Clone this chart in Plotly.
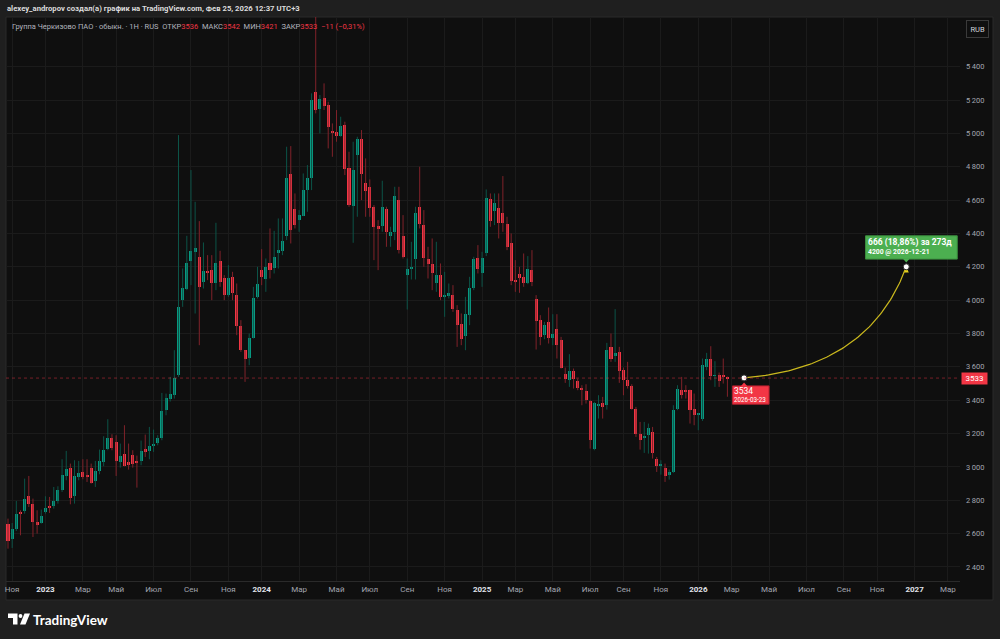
import pandas as pd
import numpy as np
import plotly.graph_objects as go

# ---------------- text ----------------
header_text = "alexey_andropov создал(а) график на TradingView.com, Фев 25, 2026 12:37 UTC+3"
symbol_text = "Группа Черкизово ПАО · обыкн. · 1Н · RUS"
currency = "RUB"

# ---------------- weekly OHLC (from 2022-10-31) ----------------
first_week = "2022-10-31"
opens = [2656,2568,2628,2730,2736,2828,2780,2668,2666,2728,
         2764,2764,2794,2864,2946,2996,2826,2938,2968,2948,
         2992,2916,2978,3030,3106,3176,3148,3030,3080,3028,
         3072,3030,3034,3110,3096,3126,3144,3174,3344,3406,
         3434,3550,4000,4066,4236,4286,4260,4106,4176,4180,
         4100,4232,4132,4030,4138,4030,3846,3700,3656,3774,
         4020,4180,4126,4224,4194,4284,4294,4384,4756,4544,
         4478,4506,4660,4730,5250,5144,5212,5170,5014,5006,
         4986,5050,4790,4564,4870,4966,4700,4676,4556,4444,
         4446,4544,4384,4410,4600,4384,4150,4184,4246,4560,
         4450,4246,4214,4104,4150,4020,4026,4030,3940,3860,
         3784,3910,4074,4250,4164,4280,4604,4536,4550,4520,
         4456,4340,4120,4154,4140,4104,4180,4006,3880,3790,
         3870,3776,3830,3760,3560,3520,3574,3514,3468,3456,
         3394,3108,3368,3386,3370,3720,3666,3690,3580,3520,
         3484,3350,3200,3176,3194,3208,3046,3006,2996,2950,
         2970,3350,3460,3456,3460,3346,3316,3286,3600,3646,
         3546,3554,3550,3536]
highs = [2690,2664,2796,2740,2930,2946,2810,2740,2744,2824,
         2820,2880,2884,3046,3096,3020,3040,3036,3046,3046,
         3020,3036,3104,3184,3286,3196,3190,3140,3250,3140,
         3100,3068,3158,3194,3240,3224,3190,3444,3440,3540,
         3700,4990,4190,4386,4780,4590,4474,4346,4270,4270,
         4464,4296,4150,4210,4170,4100,3880,3700,3800,4080,
         4200,4306,4250,4430,4416,4490,4490,4920,4924,4640,
         4540,4760,4810,5240,5760,5230,5300,5190,5060,5140,
         5100,5070,4890,4950,4980,5020,4850,4724,4570,4480,
         4716,4560,4440,4680,4680,4510,4250,4350,4560,4800,
         4540,4320,4370,4350,4220,4170,4100,4090,3970,3920,
         4020,4140,4260,4330,4290,4664,4640,4640,4640,4744,
         4500,4400,4240,4200,4280,4264,4300,4030,3910,3870,
         3956,3916,3916,3780,3596,3676,3590,3530,3490,3496,
         3400,3390,3430,3420,3744,3800,3946,3720,3596,3630,
         3496,3360,3270,3270,3260,3240,3060,3040,3020,2984,
         3370,3490,3540,3490,3464,3440,3324,3650,3684,3724,
         3634,3566,3650,3542]
lows = [2510,2514,2616,2590,2720,2760,2580,2600,2660,2720,
        2724,2750,2780,2850,2920,2776,2780,2920,2926,2910,
        2900,2880,2956,3004,3100,3100,2946,2996,3004,2984,
        2996,2876,3010,3060,3046,3090,3130,3160,3310,3392,
        3410,3540,3960,4060,4090,3920,3730,4070,4120,4000,
        4060,4080,4000,4020,4000,3790,3690,3510,3610,3770,
        4010,4090,4050,4130,4160,4190,4270,4360,4340,4430,
        4410,4504,4530,4660,5120,5000,5140,4910,4860,4950,
        4980,4750,4560,4344,4500,4600,4500,4500,4240,4180,
        4410,4320,4320,4360,4280,4250,3944,4124,4124,4430,
        4200,4130,4060,4050,4000,3900,4010,3930,3720,3730,
        3700,3850,4060,4160,4080,4264,4440,4450,4370,4410,
        4300,4090,4050,4044,4080,4096,4084,3704,3730,3766,
        3740,3730,3650,3590,3504,3480,3470,3460,3370,3380,
        3110,3100,3290,3290,3344,3630,3630,3504,3430,3470,
        3344,3180,3104,3084,3080,3050,2970,2954,2910,2924,
        2964,3340,3410,3410,3260,3250,3220,3276,3580,3520,
        3480,3480,3500,3421]
closes = [2556,2628,2716,2718,2808,2780,2670,2650,2708,2756,
          2758,2794,2864,2954,2986,2816,2946,2966,2940,2944,
          2906,2974,3034,3104,3176,3116,3036,3068,3008,3010,
          3020,3026,3098,3090,3126,3134,3176,3334,3416,3436,
          3536,3960,4070,4224,4294,4310,4080,4174,4160,4100,
          4224,4110,4030,4132,4044,3844,3700,3650,3774,4014,
          4094,4138,4200,4180,4260,4300,4356,4732,4418,4448,
          4508,4660,4730,5200,5140,5208,5164,5040,5006,4986,
          5044,4788,4570,4780,4966,4754,4656,4554,4440,4424,
          4556,4410,4410,4626,4300,4256,4186,4200,4520,4454,
          4254,4214,4160,4150,4020,4030,4046,3950,3854,3770,
          3920,4070,4246,4184,4250,4610,4476,4580,4460,4460,
          4316,4116,4110,4130,4100,4186,4106,3876,3780,3854,
          3776,3800,3730,3596,3526,3574,3526,3476,3462,3400,
          3164,3384,3376,3360,3700,3646,3684,3576,3520,3484,
          3346,3200,3160,3180,3232,3084,3004,3018,2944,2970,
          3340,3466,3434,3450,3340,3310,3320,3610,3648,3544,
          3550,3516,3544,3533]

# ---------------- axes ----------------
month_starts = ["2022-11-01","2023-01-01","2023-03-01","2023-05-01","2023-07-01","2023-09-01",
                "2023-11-01","2024-01-01","2024-03-01","2024-05-01","2024-07-01","2024-09-01",
                "2024-11-01","2025-01-01","2025-03-01","2025-05-01","2025-07-01","2025-09-01",
                "2025-11-01","2026-01-01","2026-03-01","2026-05-01","2026-07-01","2026-09-01",
                "2026-11-01","2027-01-01","2027-03-01"]
month_labels = ["Ноя","2023","Мар","Май","Июл","Сен","Ноя","2024","Мар","Май","Июл","Сен",
                "Ноя","2025","Мар","Май","Июл","Сен","Ноя","2026","Мар","Май","Июл","Сен",
                "Ноя","2027","Мар"]
price_ticks = list(range(2400, 5401, 200))
x_range = ["2022-10-27 15:00", "2027-03-21 12:00"]
y_range = [2316, 5698]

# ---------------- forecast curve drawing ----------------
curve_start_date, curve_start_price = "2026-03-23", 3534
curve_ctrl_date, curve_ctrl_price = "2026-10-20", 3593
curve_end_date, curve_end_price = "2026-12-21", 4200
change_pct_text = "18,86%"

UP, DOWN = "#089981", "#f23645"
UP_WICK, DOWN_WICK = "#0c5448", "#80222a"

W, H = 1000, 639
ML, MR, MT, MB = 6, 40, 17, 58
PW, PH = W - ML - MR, H - MT - MB


def pxx(x):
    return (x - ML) / PW


def pxy(y):
    return (H - MB - y) / PH


dates = pd.date_range(first_week, periods=len(opens), freq="7D")
n = len(opens)

# weekly bars sit on Mondays: time-scale labels go to the first weekly bar of each month
tick_vals = []
for m in month_starts:
    d = pd.Timestamp(m)
    tick_vals.append(d + pd.Timedelta(days=(7 - d.weekday()) % 7))

fig = go.Figure()

# wicks
for is_up, col in ((True, UP_WICK), (False, DOWN_WICK)):
    xs, ys = [], []
    for i in range(n):
        if (closes[i] >= opens[i]) == is_up:
            xs += [dates[i], dates[i], None]
            ys += [lows[i], highs[i], None]
    fig.add_trace(go.Scatter(x=xs, y=ys, mode="lines", line=dict(color=col, width=1),
                             hoverinfo="skip"))

# bodies
body_base = [min(o, c) for o, c in zip(opens, closes)]
body_h = [max(abs(c - o), 5) for o, c in zip(opens, closes)]
body_col = [UP if c >= o else DOWN for o, c in zip(opens, closes)]
fig.add_trace(go.Bar(x=dates, y=body_h, base=body_base, marker=dict(color=body_col, line=dict(width=0)),
                     width=5.1 * 86400000, hoverinfo="skip"))

# forecast curve (quadratic bezier)
t = np.linspace(0, 1, 80)
s_ns = pd.Timestamp(curve_start_date).value
c_ns = pd.Timestamp(curve_ctrl_date).value
e_ns = pd.Timestamp(curve_end_date).value
cx = (1 - t) ** 2 * s_ns + 2 * t * (1 - t) * c_ns + t ** 2 * e_ns
cy = (1 - t) ** 2 * curve_start_price + 2 * t * (1 - t) * curve_ctrl_price + t ** 2 * curve_end_price
fig.add_trace(go.Scatter(x=pd.to_datetime(cx), y=cy, mode="lines",
                         line=dict(color="#cbb91e", width=1.2), hoverinfo="skip"))

last_close = closes[-1]


def anchored(kind, xa, ya, **kw):
    d = dict(type=kind, xref="x", yref="y", xsizemode="pixel", ysizemode="pixel",
             xanchor=xa, yanchor=ya)
    d.update(kw)
    return d


shapes = [
    dict(type="rect", xref="paper", yref="paper", x0=pxx(6), x1=pxx(993), y0=pxy(600), y1=pxy(17),
         fillcolor="#0f0f0f", line=dict(color="#2a2a2a", width=1), layer="below"),
    dict(type="line", xref="paper", yref="y", x0=0, x1=1, y0=last_close, y1=last_close,
         line=dict(color="rgba(242,54,69,0.45)", width=1, dash="dot")),
    # green label box + pointer
    anchored("rect", curve_end_date, curve_end_price, x0=-40.7, x1=51, y0=7.7, y1=31,
             fillcolor="#4caf50", line=dict(color="#3b8f3f", width=1)),
    anchored("path", curve_end_date, curve_end_price,
             path="M -3.5 8.2 L 3.5 8.2 L 0 4.3 Z", fillcolor="#4caf50", line=dict(width=0)),
    # red label box + pointer
    anchored("rect", curve_start_date, curve_start_price, x0=-11.6, x1=25, y0=-8, y1=-26.3,
             fillcolor="#f23645", line=dict(color="#b3202d", width=1)),
    anchored("path", curve_start_date, curve_start_price,
             path="M -3.5 -8.5 L 3.5 -8.5 L 0 -4.5 Z", fillcolor="#f23645", line=dict(width=0)),
    # arrow head of the curve
    anchored("path", curve_end_date, curve_end_price,
             path="M -2.6 -5.6 L 2.6 -5.6 L 0 -0.5 Z", fillcolor="#e6d21f", line=dict(width=0),
             layer="below"),
]


# TradingView logo (paper coords)
def ppath(points):
    return "M " + " L ".join(f"{pxx(x):.5f} {pxy(y):.5f}" for x, y in points) + " Z"


shapes += [
    dict(type="path", xref="paper", yref="paper",
         path=ppath([(8, 613.5), (17.5, 613.5), (17.5, 624.5), (13, 624.5), (13, 618), (8, 618)]),
         fillcolor="#ffffff", line=dict(width=0)),
    dict(type="circle", xref="paper", yref="paper", x0=pxx(18.6), x1=pxx(22.4), y0=pxy(617.9),
         y1=pxy(614.1), fillcolor="#ffffff", line=dict(width=0)),
    dict(type="path", xref="paper", yref="paper",
         path=ppath([(24.5, 613.5), (30, 613.5), (25.5, 624.5), (20, 624.5)]),
         fillcolor="#ffffff", line=dict(width=0)),
]

# endpoint dots
fig.add_trace(go.Scatter(x=[curve_start_date, curve_end_date], y=[curve_start_price, curve_end_price],
                         mode="markers", marker=dict(size=6, color="#ffffff", line=dict(color="#2a2a2a", width=1)),
                         hoverinfo="skip"))

FONT = "Roboto"
red_span = lambda s: f"<span style='color:#f23645'>{s}</span>"
prev_close = closes[-2]
chg = last_close - prev_close
chg_pct = chg / prev_close * 100
sign = "−" if chg < 0 else "+"
legend_text = (f"{symbol_text}  ОТКР{red_span(opens[-1])}  МАКС{red_span(highs[-1])}  "
               f"МИН{red_span(lows[-1])}  ЗАКР{red_span(last_close)}  "
               + red_span(f"{sign}{abs(chg)} ({sign}{abs(chg_pct):.2f}%)".replace('.', ',')))

diff = curve_end_price - curve_start_price
days = (pd.Timestamp(curve_end_date) - pd.Timestamp(curve_start_date)).days


def label_text(xa, ya, text, dx, dy, size, weight="normal"):
    return dict(xref="x", yref="y", x=xa, y=ya, xanchor="left", yanchor="middle",
                xshift=dx - 1, yshift=dy, text=text, showarrow=False, borderpad=0,
                font=dict(family=FONT, size=size, color="#ffffff", weight=weight))


annotations = [
    dict(xref="paper", yref="paper", x=pxx(5), y=pxy(9), xanchor="left", yanchor="middle",
         text=header_text, showarrow=False, font=dict(family=FONT, size=7.7, color="#dcdcdc", weight="bold")),
    dict(xref="paper", yref="paper", x=pxx(10), y=pxy(27), xanchor="left", yanchor="middle",
         text=legend_text, showarrow=False, font=dict(family=FONT, size=7.5, color="#b2b5be")),
    dict(xref="paper", yref="paper", x=pxx(977), y=pxy(28.5), xanchor="center", yanchor="middle",
         text=currency, showarrow=False, font=dict(family=FONT, size=7.5, color="#d1d4dc"),
         bgcolor="#0f0f0f", bordercolor="#3a3a3a", borderwidth=1, borderpad=3.5),
    dict(xref="paper", yref="y", x=1, y=last_close, xanchor="left", yanchor="middle", xshift=1,
         text=f"{last_close}", showarrow=False, font=dict(family=FONT, size=8, color="#ffffff"),
         bgcolor="#f23645", borderpad=1, width=23),
    label_text(curve_end_date, curve_end_price, f"{diff} ({change_pct_text}) за {days}д",
               -38, 24, 8.5, "bold"),
    label_text(curve_end_date, curve_end_price, f"{curve_end_price} @ {curve_end_date}",
               -38, 14.4, 6.8, "bold"),
    label_text(curve_start_date, curve_start_price, f"{curve_start_price}", -10, -13.3, 8.5),
    label_text(curve_start_date, curve_start_price, f"{curve_start_date}", -10, -22, 6.3),
    dict(xref="paper", yref="paper", x=pxx(31), y=pxy(619.5), xanchor="left", yanchor="middle",
         text="TradingView", showarrow=False, font=dict(family="Lato", size=13.5, color="#ffffff", weight="bold")),
]

tick_text = []
for lab in month_labels:
    if lab.isdigit():
        tick_text.append(f"<span style='color:#e0e3eb'><b>{lab}</b></span>")
    else:
        tick_text.append(lab)

fig.update_layout(
    width=W, height=H, margin=dict(l=ML, r=MR, t=MT, b=MB),
    paper_bgcolor="#1f1f1f", plot_bgcolor="#0f0f0f",
    showlegend=False, barmode="overlay", bargap=0,
    shapes=shapes, annotations=annotations,
    xaxis=dict(type="date", range=x_range, tickvals=tick_vals, ticktext=tick_text,
               tickfont=dict(family=FONT, size=8, color="#a3a6af"), showgrid=True,
               gridcolor="#1b1b1b", gridwidth=1, zeroline=False, showline=True,
               linecolor="#2a2a2a", linewidth=1, ticks="", rangeslider=dict(visible=False)),
    yaxis=dict(side="right", range=y_range, tickvals=price_ticks,
               ticktext=[f"{v:,}".replace(",", "\u2009") for v in price_ticks],
               tickfont=dict(family=FONT, size=7.5, color="#a3a6af"), showgrid=True,
               gridcolor="#1b1b1b", gridwidth=1, zeroline=False, showline=False, ticks="",
               ticklabelstandoff=5),
)

fig.write_html("out.html")
